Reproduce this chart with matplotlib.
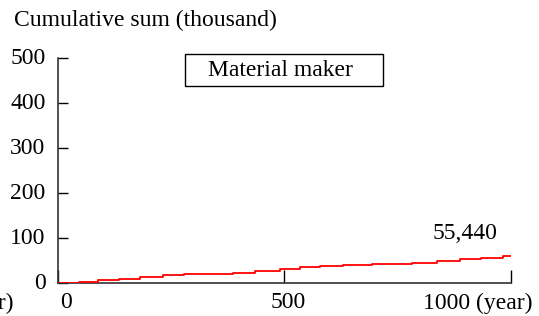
import matplotlib
matplotlib.use("Agg")
import matplotlib.pyplot as plt
from matplotlib.patches import Rectangle
from matplotlib.transforms import ScaledTranslation

plt.rcParams['font.family'] = ['Liberation Serif', 'DejaVu Serif']

# step positions (year) and cumulative sums (thousand)
years = [0, 46, 89, 135, 181, 231, 279, 387, 435, 490, 535, 579, 630, 694,
         781, 837, 888, 935, 982, 1000]
cumsum = [0, 1.6, 6.0, 8.9, 13.4, 16.5, 19.4, 22.3, 26.8, 29.9, 34.4, 37.3,
          38.4, 41.7, 44.6, 49.1, 52.2, 55.44, 58.5, 58.5]

y_ticks = [0, 100, 200, 300, 400, 500]
x_ticks = [0, 500, 1000]
x_label_pos = [18, 508, 927]
x_label_txt = ['0', '500', '1000 (year)']

fs = 17
W, H = 539, 316

fig = plt.figure(figsize=(W / 100, H / 100), dpi=100)
ax = fig.add_axes([58 / W, 1 - 282.7 / H, (510.7 - 58) / W, (282.7 - 58) / H])

ax.step(years, cumsum, where='post', color='red', linewidth=1.3, zorder=3)

ax.set_xlim(0, 1000)
ax.set_ylim(0, 500)
ax.set_yticks(y_ticks)
ax.set_xticks(x_ticks)
ax.set_xticklabels([])
ax.tick_params(axis='y', direction='in', length=7.5, width=1, pad=9, labelsize=fs)
ax.tick_params(axis='x', direction='in', length=9.5, width=1)
for s in ['top', 'right']:
    ax.spines[s].set_visible(False)
for s in ['left', 'bottom']:
    ax.spines[s].set_color('#333333')
    ax.spines[s].set_linewidth(1.2)

# y labels sit a touch above their ticks in the original
for lab in ax.get_yticklabels():
    lab.set_transform(lab.get_transform() + ScaledTranslation(0, 0.015, fig.dpi_scale_trans))

for xp, t in zip(x_label_pos, x_label_txt):
    ax.text(xp, -45, t, ha='center', va='center', fontsize=fs)

ax.text(900, 108.7, '55,440', ha='center', va='center', fontsize=fs)

# label box
fig.patches.append(Rectangle((185 / W, 1 - 86 / H), 198 / W, 32 / H,
                             transform=fig.transFigure, facecolor='white',
                             edgecolor='black', linewidth=1))
fig.text(280 / W, 1 - 71 / H, 'Material maker', ha='center', va='center',
         fontsize=fs)

fig.text(14 / W, 1 - 20 / H, 'Cumulative sum (thousand)', ha='left',
         va='center', fontsize=fs)
fig.text(13 / W, 1 - 303 / H, '(year)', ha='right', va='center', fontsize=fs)

fig.savefig('out.png', dpi=100)
